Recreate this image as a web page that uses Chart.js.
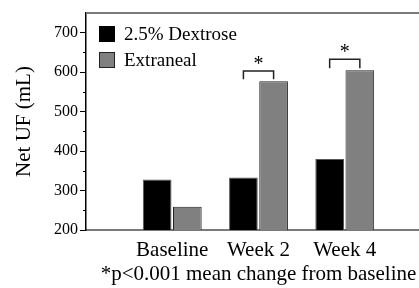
<!DOCTYPE html>
<html>
<head>
<meta charset="utf-8">
<script src="https://cdn.jsdelivr.net/npm/chart.js@4"></script>
<style>
  html, body { margin: 0; padding: 0; background: #fff; overflow: hidden; }
  /* a little wider than the window: the original frame runs off the right edge */
  #wrap { width: 431px; height: 288px; position: relative; }
</style>
</head>
<body>
<div id="wrap"><canvas id="ufChart"></canvas></div>
<script>
// Net UF by visit

const categories = ["Baseline", "Week 2", "Week 4"];
const dextrose = [328, 333, 380];
const extraneal = [259, 577, 605];
const yTicks = [200, 300, 400, 500, 600, 700];
// significance brackets: [top, leg bottom] in mL, null = none
const bracketTop = [null, 603, 633];
const bracketLeg = [null, 582, 610];

const serif = "'Liberation Serif', 'Times New Roman', serif";

// empty slot on each side so the groups sit where the original has them
const labels = ["", ...categories, ""];
const pad = (arr) => [null, ...arr, null];

const minorTicks = {
    id: "minorTicks",
    afterDraw(chart) {
        const y = chart.scales.y;
        const ctx = chart.ctx;
        ctx.save();
        ctx.strokeStyle = "#000";
        ctx.lineWidth = 1;
        for (let v = y.min + 50; v < y.max; v += 100) {
            const py = Math.round(y.getPixelForValue(v)) + 0.5;
            ctx.beginPath();
            ctx.moveTo(y.right - 3, py);
            ctx.lineTo(y.right, py);
            ctx.stroke();
        }
        // top frame line
        const a = chart.chartArea;
        ctx.strokeStyle = "#7a7a7a";
        ctx.lineWidth = 2;
        ctx.beginPath();
        ctx.moveTo(a.left, a.top);
        ctx.lineTo(a.right, a.top);
        ctx.stroke();
        ctx.restore();
    }
};

const boxLegend = {
    id: "boxLegend",
    afterDraw(chart) {
        const ctx = chart.ctx;
        const a = chart.chartArea;
        ctx.save();
        ctx.font = "19px " + serif;
        ctx.textBaseline = "middle";
        chart.data.datasets.forEach((ds, i) => {
            const x = a.left + 13;
            const y = a.top + 13 + i * 26;
            ctx.fillStyle = ds.backgroundColor;
            ctx.fillRect(x, y, 16, 16);
            if (i > 0) {
                ctx.strokeStyle = "#222";
                ctx.lineWidth = 1;
                ctx.strokeRect(x + 0.5, y + 0.5, 15, 15);
            }
            ctx.fillStyle = "#000";
            ctx.fillText(ds.label, x + 25, y + 9);
        });
        ctx.restore();
    }
};

const brackets = {
    id: "brackets",
    afterDatasetsDraw(chart) {
        const ctx = chart.ctx;
        const y = chart.scales.y;
        const m0 = chart.getDatasetMeta(0).data;
        const m1 = chart.getDatasetMeta(1).data;
        ctx.save();
        ctx.strokeStyle = "#222";
        ctx.lineWidth = 1.5;
        ctx.fillStyle = "#000";
        ctx.font = "20px " + serif;
        ctx.textAlign = "center";
        ctx.textBaseline = "alphabetic";
        bracketTop.forEach((top, i) => {
            if (top == null) return;
            const x0 = m0[i + 1].x;
            const x1 = m1[i + 1].x;
            const yt = y.getPixelForValue(top);
            const yl = y.getPixelForValue(bracketLeg[i]);
            ctx.beginPath();
            ctx.moveTo(x0, yl);
            ctx.lineTo(x0, yt);
            ctx.lineTo(x1, yt);
            ctx.lineTo(x1, yl);
            ctx.stroke();
            ctx.fillText("*", (x0 + x1) / 2, yt - 1);
        });
        ctx.restore();
    }
};

new Chart(document.getElementById("ufChart"), {
    type: "bar",

    data: {
        labels: labels,
        datasets: [{
            label: "2.5% Dextrose",
            data: pad(dextrose),
            backgroundColor: "#000000",
            borderColor: "#555555",
            borderWidth: 1
        }, {
            label: "Extraneal",
            data: pad(extraneal),
            backgroundColor: "#808080",
            borderColor: "#222222",
            borderWidth: 1
        }]
    },

    options: {
        responsive: true,
        maintainAspectRatio: false,
        animation: false,
        layout: {
            padding: { top: 13, right: 0, left: 0, bottom: 0 }
        },
        datasets: {
            bar: {
                categoryPercentage: 0.7,
                barPercentage: 0.95
            }
        },
        plugins: {
            legend: { display: false },
            tooltip: { enabled: false }
        },
        scales: {
            x: {
                offset: false,
                grid: { display: false, drawTicks: false },
                border: { display: true, color: "#7a7a7a", width: 2 },
                ticks: {
                    color: "#000",
                    padding: 8,
                    maxRotation: 0,
                    autoSkip: false,
                    font: { family: serif, size: 21 }
                },
                title: {
                    display: true,
                    text: "*p<0.001 mean change from baseline",
                    color: "#000",
                    padding: { top: 0, bottom: 1 },
                    font: { family: serif, size: 21 }
                },
                afterFit(scale) {
                    scale.height = 58;
                    scale.paddingLeft = 0;
                    scale.paddingRight = 0;
                }
            },
            y: {
                min: 200,
                max: 750,
                afterBuildTicks(scale) {
                    scale.ticks = yTicks.map(v => ({ value: v }));
                },
                grid: {
                    drawOnChartArea: false,
                    drawTicks: true,
                    tickLength: 6,
                    tickColor: "#000"
                },
                border: { display: true, color: "#000", width: 1.5 },
                ticks: {
                    color: "#000",
                    padding: 2,
                    font: { family: serif, size: 16 }
                },
                title: {
                    display: true,
                    text: "Net UF (mL)",
                    color: "#000",
                    padding: { top: 12, bottom: 0 },
                    font: { family: serif, size: 21 }
                },
                afterFit(scale) { scale.width = 86; }
            }
        }
    },

    plugins: [minorTicks, brackets, boxLegend]
});
</script>
</body>
</html>
